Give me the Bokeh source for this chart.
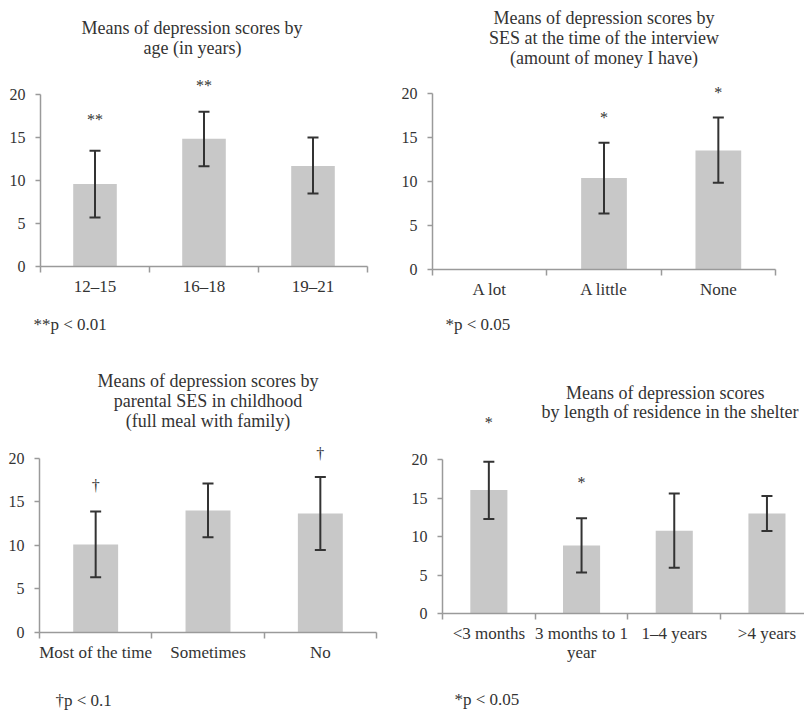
from bokeh.plotting import figure
from bokeh.models import (Range1d, FixedTicker, Whisker, TeeHead, Title,
                          ColumnDataSource, LinearAxis)
from bokeh.layouts import column, row
from bokeh.embed import file_html
from bokeh.resources import INLINE
from bokeh.core.properties import value

# ---------------- data ----------------
age_cats = ["12–15", "16–18", "19–21"]
age_means = [9.6, 14.85, 11.7]
age_upper = [13.45, 18.0, 15.0]
age_lower = [5.7, 11.66, 8.5]
age_sig = ["**", "**", ""]
age_sig_y = [17.1, 21.0, None]
age_title = ["Means of depression scores by", "age (in years)"]
age_note = "**p < 0.01"

ses_cats = ["A lot", "A little", "None"]
ses_means = [None, 10.36, 13.5]
ses_upper = [None, 14.36, 17.23]
ses_lower = [None, 6.35, 9.83]
ses_sig = ["", "*", "*"]
ses_sig_y = [None, 17.2, 20.1]
ses_title = ["Means of depression scores by", "SES at the time of the interview",
             "(amount of money I have)"]
ses_note = "*p < 0.05"

par_cats = ["Most of the time", "Sometimes", "No"]
par_means = [10.1, 14.0, 13.65]
par_upper = [13.88, 17.1, 17.85]
par_lower = [6.35, 10.93, 9.48]
par_sig = ["†", "", "†"]
par_sig_y = [16.9, None, 20.5]
par_title = ["Means of depression scores by", "parental SES in childhood",
             "(full meal with family)"]
par_note = "†p < 0.1"

res_cats = ["<3 months", "3 months to 1 year", "1–4 years", ">4 years"]
res_means = [16.07, 8.85, 10.77, 13.02]
res_upper = [19.75, 12.4, 15.6, 15.3]
res_lower = [12.29, 5.34, 5.95, 10.73]
res_sig = ["*", "*", "", ""]
res_sig_y = [24.9, 17.0, None, None]
res_title = ["Means of depression scores", "by length of residence in the shelter"]
res_note = "*p < 0.05"
res_label_wrap = {"3 months to 1 year": "3 months to 1\nyear"}

y_ticks = [0, 5, 10, 15, 20]

# ---------------- styles ----------------
FONT = "Liberation Serif"
TEXT = "#333333"
AXIS = "#9a9a9a"
BAR = "#c8c8c8"
ERR = "#333333"


def panel(cats, means, upper, lower, sig, sig_y, title, note, g, wrap=None):
    n = len(cats)
    centers = [i + 0.5 for i in range(n)]
    fh = g["h"] - g["mt"] - g["mb"]
    y_end = fh / g["ppu"]
    p = figure(width=g["w"], height=g["h"],
               x_range=Range1d(0, g.get("x_end", n)), y_range=Range1d(0, y_end),
               min_border_left=g["ml"], min_border_right=g["mr"],
               min_border_top=g["mt"], min_border_bottom=g["mb"],
               x_axis_type=None, y_axis_type=None,
               output_backend="svg", toolbar_location=None)
    p.outline_line_color = None
    p.xgrid.visible = False
    p.ygrid.visible = False

    idx = [i for i in range(n) if means[i] is not None]
    src = ColumnDataSource(dict(
        x=[centers[i] for i in idx],
        top=[means[i] for i in idx],
        upper=[upper[i] for i in idx],
        lower=[lower[i] for i in idx],
    ))
    p.vbar(x="x", top="top", bottom=0, width=0.4, source=src,
           fill_color=BAR, line_color=None)
    wh = Whisker(source=src, base="x", upper="upper", lower="lower",
                 line_color=ERR, line_width=2, level="overlay",
                 upper_head=TeeHead(size=11, line_color=ERR, line_width=2),
                 lower_head=TeeHead(size=11, line_color=ERR, line_width=2))
    p.add_layout(wh)

    sidx = [i for i in range(n) if sig[i]]
    ssrc = ColumnDataSource(dict(x=[centers[i] for i in sidx],
                                 y=[sig_y[i] for i in sidx],
                                 t=[sig[i] for i in sidx]))
    p.text(x="x", y="y", text="t", source=ssrc, text_font=value(FONT),
           text_font_size="16px", text_align="center", text_baseline="middle",
           text_color=TEXT)

    xaxis = LinearAxis(ticker=FixedTicker(ticks=centers, minor_ticks=list(range(n + 1))))
    labels = {c: (wrap.get(cats[i], cats[i]) if wrap else cats[i])
              for i, c in enumerate(centers)}
    xaxis.major_label_overrides = labels
    xaxis.axis_line_color = AXIS
    xaxis.axis_line_width = 1.5
    xaxis.major_tick_line_color = None
    xaxis.major_tick_out = 0
    xaxis.major_tick_in = 0
    xaxis.minor_tick_line_color = AXIS
    xaxis.minor_tick_line_width = 1.5
    xaxis.minor_tick_out = 6
    xaxis.minor_tick_in = 0
    xaxis.major_label_standoff = 4
    xaxis.major_label_text_font = FONT
    xaxis.major_label_text_font_size = "17px"
    xaxis.major_label_text_line_height = 1.0
    xaxis.major_label_text_color = TEXT
    p.add_layout(xaxis, "below")

    yaxis = LinearAxis(ticker=FixedTicker(ticks=y_ticks, minor_ticks=[]), bounds=(0, 20))
    yaxis.axis_line_color = AXIS
    yaxis.axis_line_width = 1.5
    yaxis.major_tick_line_color = AXIS
    yaxis.major_tick_line_width = 1.5
    yaxis.major_tick_out = 5
    yaxis.major_tick_in = 0
    yaxis.minor_tick_line_color = None
    yaxis.major_label_standoff = 10
    yaxis.major_label_text_font = FONT
    yaxis.major_label_text_font_size = "16px"
    yaxis.major_label_text_color = TEXT
    p.add_layout(yaxis, "left")

    # title lines: the one nearest to the frame is added first
    for line, off, st in reversed(list(zip(title, g["toff"], g["tstand"]))):
        p.add_layout(Title(text=line, align=g["talign"], offset=off, standoff=st,
                           text_font=FONT, text_font_size="18px", text_font_style="normal",
                           text_color=TEXT), "above")
    if g.get("gap"):
        # blank gap between the category labels and the footnote
        p.add_layout(Title(text=" ", text_font_size="1px", standoff=g["gap"]), "below")
    p.add_layout(Title(text=note, align="left", offset=g["noff"], standoff=g["nstand"],
                       text_font=FONT, text_font_size="17px", text_font_style="normal",
                       text_color=TEXT), "below")
    return p


g1 = dict(w=398, h=350, ml=40, mr=31, mt=56, mb=84, ppu=8.6,
          talign="left", toff=[41, 103], tstand=[-2, -2], noff=-7, nstand=28)
g2 = dict(w=406, h=350, ml=34, mr=29, mt=66, mb=81, ppu=8.82,
          talign="center", toff=[0, 0, 0], tstand=[-2, -2, -2], noff=13, nstand=22)
g3 = dict(w=398, h=362, ml=39, mr=22, mt=79, mb=80, ppu=8.715,
          talign="center", toff=[0, 0, 0], tstand=[-2, -2, -2], noff=16, nstand=0, gap=21)
g4 = dict(w=406, h=362, ml=44, mr=0, mt=64, mb=99, ppu=7.685, x_end=3.905,
          talign="right", toff=[40, 6], tstand=[9.8, -14.6], noff=12, nstand=0, gap=20)

p1 = panel(age_cats, age_means, age_upper, age_lower, age_sig, age_sig_y, age_title, age_note, g1)
p2 = panel(ses_cats, ses_means, ses_upper, ses_lower, ses_sig, ses_sig_y, ses_title, ses_note, g2)
p3 = panel(par_cats, par_means, par_upper, par_lower, par_sig, par_sig_y, par_title, par_note, g3)
p4 = panel(res_cats, res_means, res_upper, res_lower, res_sig, res_sig_y, res_title, res_note, g4,
           wrap=res_label_wrap)

layout = column(row(column(p1), column(p2)), row(column(p3), column(p4)))
open("out.html", "w").write(file_html(layout, INLINE))
